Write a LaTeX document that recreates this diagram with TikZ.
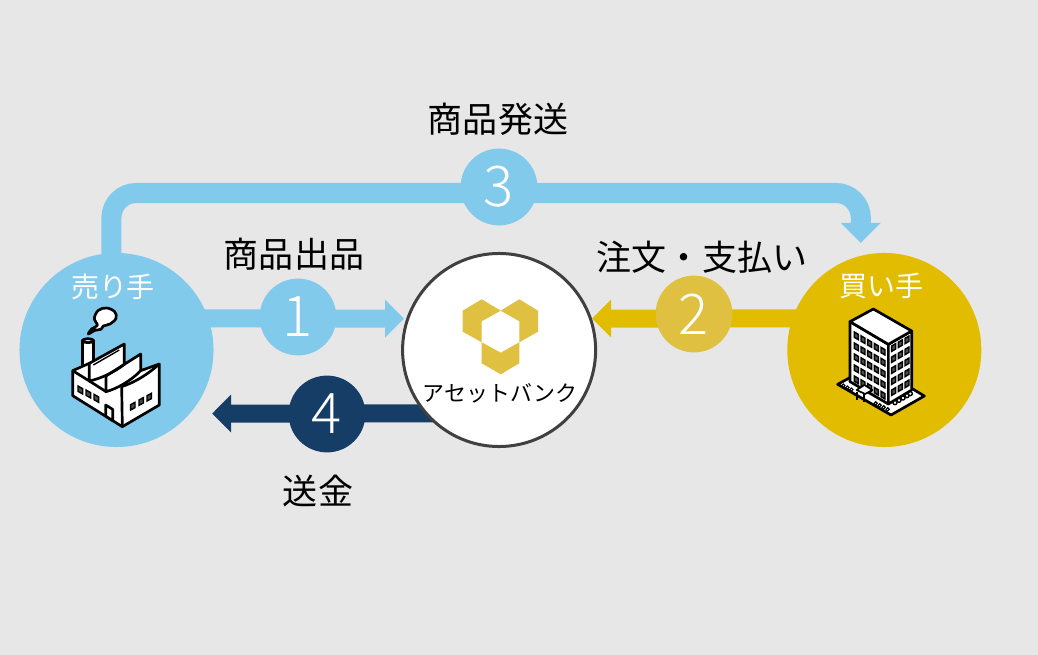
\documentclass[tikz,border=0pt]{standalone}
\usepackage{fontspec}
\setmainfont{Noto Sans CJK JP}
\newfontfamily\digitfont{Noto Sans CJK JP Light}
\usepackage{xcolor}
\usetikzlibrary{positioning, arrows.meta, backgrounds}
\definecolor{pagegray}{HTML}{E7E7E7}
\definecolor{skyblue}{HTML}{82CAEC}
\definecolor{navyblue}{HTML}{163D66}
\definecolor{goldbase}{HTML}{E1BC00}
\definecolor{goldsoft}{HTML}{E0C040}
\definecolor{ringgray}{HTML}{404040}
\tikzset{
    party/.style={circle, minimum size=4.85cm, inner sep=0pt, outer sep=0pt},
    bankring/.style={circle, draw=ringgray, line width=0.075cm, fill=white, minimum size=4.825cm, inner sep=0pt, outer sep=0pt},
    badge/.style={circle, minimum size=1.92cm, inner sep=0pt, text=white, font=\digitfont\fontsize{40}{42}\selectfont},
    caption/.style={inner sep=0pt, text=black, font=\fontsize{24.9}{28}\selectfont},
    tag/.style={inner sep=0pt, text=white, font=\fontsize{19.9}{22}\selectfont},
    flow/.style={line width=0.45cm, shorten <=-0.4cm, -{Triangle[length=0.475cm, width=0.95cm, line width=0pt]}},
    longflow/.style={line width=0.5cm, rounded corners=0.62cm, shorten <=-0.4cm, -{Triangle[length=0.5cm, width=1cm, line width=0pt]}},
    icon/.style={draw=black, line width=1.9pt, fill=white, line join=round},
    pane/.style={draw=black, line width=1pt, fill=black!70}
}
\begin{document}
\begin{tikzpicture}[x=0.025cm, y=-0.025cm]
        \useasboundingbox (0,0) rectangle (1038,655);
        % Parties
        \node[party, fill=skyblue] (seller) at (116.5,350) {};
        \node[bankring, right=4.725cm of seller] (bank) {};
        \node[party, fill=goldbase, right=4.79cm of bank] (buyer) {};

        % Steps
        \node[badge, fill=skyblue] (stepOne) at (298,317) {1};
        \node[badge, fill=goldsoft] (stepTwo) at (694,314) {2};
        \node[badge, fill=skyblue] (stepThree) at (499,187) {3};
        \node[badge, fill=navyblue] (stepFour) at (327,414) {4};

        % Labels
        \node[caption] (shipLabel) at (498,119) {商品発送};
        \node[caption] (listLabel) at (294,254) {商品出品};
        \node[caption] (orderLabel) at (702,257) {注文・支払い};
        \node[caption] (remitLabel) at (318,491) {送金};
        \node[tag] (sellerLabel) at (113,287) {売り手};
        \node[tag] (buyerLabel) at (881,286) {買い手};
        \node[inner sep=0pt, font=\fontsize{15.6}{18}\selectfont] (bankLabel) at (500,393) {アセットバンク};

        % Arrows
        \begin{pgfonlayer}{background}
            \fill[pagegray] (0,0) rectangle (1038,655);
            \draw[flow, skyblue, shorten >=0.095cm] (seller.19) -- (bank.161);
            \draw[flow, goldbase, shorten >=0.045cm] (buyer.161) -- (bank.19);
            \draw[flow, navyblue, shorten >=0.56cm] (bank.221) -- (seller.-41);
            \draw[longflow, skyblue, shorten >=0.325cm] (seller.93) |- ([yshift=-0.15cm]stepThree.center) -| (buyer.104);
        \end{pgfonlayer}

        % Logo
        \fill[goldsoft] (481.7,299.3) -- (462.7,310.7) -- (462.7,331.7) -- (481.7,342.3) -- (481.7,321.3) -- (500.7,310.7) -- cycle;
        \fill[goldsoft] (519.3,299.3) -- (538,310.7) -- (538,331.7) -- (519.3,342.3) -- (519.3,321.3) -- (500.7,310.7) -- cycle;
        \fill[goldsoft] (481.7,342.3) -- (500.7,352.7) -- (519.3,342.3) -- (519.3,363.3) -- (500.7,374.3) -- (481.7,363.3) -- cycle;

        % Factory
        \begin{scope}[shift={(20,250)}, x=0.00833cm, y=-0.00833cm]
            \draw[icon] plot[smooth cycle, tension=0.6] coordinates {(205,252) (216,236) (232,226) (223,205) (235,181) (260,174) (284,185) (288,205) (270,222) (250,228) (243,238) (225,241)};
            \draw[icon] (187,272) -- (187,345) -- (221,345) -- (221,272) -- cycle;
            \draw[icon] (204,272) ellipse [x radius=17, y radius=6];
            \draw[icon] (158,362) -- (208,340) -- (313,282) -- (313,343) -- (362,312) -- (362,362) -- (418,342) -- (418,465) -- (307,530) -- (158,437) -- cycle;
            \draw[icon, fill=none] (208,340) -- (208,393) .. controls (245,385) and (285,365) .. (313,343);
            \draw[icon, fill=none, line width=1pt] (220,345) -- (298,300);
            \draw[icon, fill=none] (158,362) -- (208,393) -- (258,425);
            \draw[icon, fill=none] (258,378) -- (258,425) .. controls (295,415) and (335,390) .. (362,362);
            \draw[icon, fill=none] (258,378) -- (313,343);
            \draw[icon, fill=none] (305,410) -- (307,530);
            \draw[icon, fill=none] (305,410) .. controls (345,397) and (385,372) .. (418,342);
            \draw[icon] (257,465) -- (278,478) -- (278,512) -- (257,498) -- cycle;
            \foreach \cx/\cy in {174/408, 198/420, 222/433}
                \draw[pane] (\cx,\cy) -- ++(14,8) -- ++(0,16) -- ++(-14,-8) -- cycle;
            \foreach \cx/\cy in {332/464, 357/450, 381/437}
                \draw[pane] (\cx,\cy) -- ++(13,-7) -- ++(0,16) -- ++(-13,7) -- cycle;
        \end{scope}

        % Office
        \begin{scope}[shift={(785,250)}, x=0.00833cm, y=-0.00833cm]
            \draw[icon] (158,403) -- (200,380) -- (380,415) -- (418,438) -- (318,495) -- cycle;
            \draw[icon] (195,215) -- (310,283) -- (310,462) -- (195,395) -- cycle;
            \draw[icon] (310,283) -- (380,243) -- (380,420) -- (310,462) -- cycle;
            \draw[icon] (195,215) -- (265,177) -- (380,243) -- (310,283) -- cycle;
            \foreach \cc in {0,...,4}
                \foreach \rr in {0,...,4}
                    \draw[pane] ({208+20*\cc},{246+11.5*\cc+33*\rr}) -- ++(12,7) -- ++(0,16) -- ++(-12,-7) -- cycle;
            \foreach \cc in {0,...,2}
                \foreach \rr in {0,...,4}
                    \draw[pane] ({320+20*\cc},{288-11.5*\cc+33*\rr}) -- ++(12,-7) -- ++(0,16) -- ++(-12,7) -- cycle;
            % Entrance
            \draw[icon, line width=1.2pt] (215,420) -- (238,405) -- (262,420) -- (240,432) -- cycle;
            \draw[black, line width=1.4pt] (215,425) -- (215,450) (238,432) -- (238,455);
            % Planting
            \foreach \tx/\ty in {175/407, 187/413, 199/419, 272/460, 284/466, 296/472, 308/478}
                \draw[draw=black, line width=0.8pt, fill=white] (\tx,\ty) circle [radius=5];
            \foreach \tx/\ty in {330/458, 342/451, 354/444, 366/437, 376/431}
                \draw[draw=black, line width=1pt, fill=white] (\tx,\ty) circle [radius=6];
        \end{scope}
    \end{tikzpicture}
\end{document}
